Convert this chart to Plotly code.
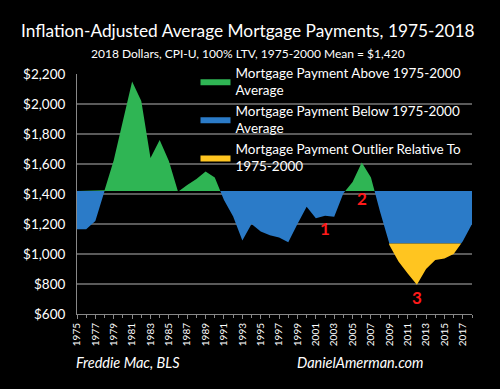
import plotly.graph_objects as go

years = list(range(1975, 2019))
payments = [1165, 1165, 1220, 1425, 1625, 1880, 2150, 2020, 1640, 1760,
            1620, 1415, 1460, 1500, 1550, 1510, 1360, 1250, 1090, 1200,
            1150, 1125, 1110, 1078, 1200, 1315, 1238, 1255, 1248, 1405,
            1480, 1610, 1510, 1280, 1060, 950, 870, 795, 900, 960,
            970, 1000, 1085, 1200]
mean_1975_2000 = 1420
outlier_level = 1070
tick_years = list(range(1975, 2018, 2))
y_ticks = list(range(600, 2201, 200))
series_names = ["Mortgage Payment Above 1975-2000<br>Average",
                "Mortgage Payment Below 1975-2000<br>Average",
                "Mortgage Payment Outlier Relative To<br>1975-2000"]
colors = ["#2fb554", "#2b7bc8", "#ffc520"]
notes = [("1", 2002, 1172), ("2", 2006, 1371), ("3", 2012, 713)]
title_text = "Inflation-Adjusted Average Mortgage Payments, 1975-2018"
subtitle_text = "2018 Dollars, CPI-U, 100% LTV, 1975-2000 Mean = $1,420"


def clipped(xs, ys, lo, hi):
    """Clip a polyline to [lo, hi], inserting the boundary crossings."""
    ox, oy = [], []
    for i in range(len(xs)):
        if i > 0:
            x0, y0, x1, y1 = xs[i - 1], ys[i - 1], xs[i], ys[i]
            for b in (lo, hi):
                if (y0 - b) * (y1 - b) < 0:
                    t = (b - y0) / (y1 - y0)
                    ox.append(x0 + t * (x1 - x0))
                    oy.append(b)
        ox.append(xs[i])
        oy.append(min(max(ys[i], lo), hi))
    pts = sorted(zip(ox, oy), key=lambda p: p[0])
    return [p[0] for p in pts], [p[1] for p in pts]


def band(lo, hi, base):
    cx, cy = clipped(years, payments, lo, hi)
    return cx + cx[::-1], cy + [base] * len(cx)


fig = go.Figure()
bands = [(mean_1975_2000, 1e9, mean_1975_2000),
         (outlier_level, mean_1975_2000, mean_1975_2000),
         (-1e9, outlier_level, outlier_level)]
for name, col, (lo, hi, base) in zip(series_names, colors, bands):
    px, py = band(lo, hi, base)
    fig.add_trace(go.Scatter(x=px, y=py, fill="toself", fillcolor=col,
                             mode="lines", line=dict(width=0, color=col),
                             name=name, hoverinfo="skip"))

for txt, xv, yv in notes:
    fig.add_annotation(x=xv, y=yv, text="<b>" + txt + "</b>", showarrow=False,
                       font=dict(family="Lato", size=17, color="#ff1a1a"),
                       xanchor="center", yanchor="middle")

fig.add_annotation(xref="paper", yref="paper", x=0.432, y=1.183,
                   text=title_text, showarrow=False,
                   xanchor="center", yanchor="middle",
                   font=dict(family="Lato", size=17.3, color="white"))
fig.add_annotation(xref="paper", yref="paper", x=0.432, y=1.0875,
                   text=subtitle_text, showarrow=False,
                   xanchor="center", yanchor="middle",
                   font=dict(family="Lato", size=12, color="white"))
fig.add_annotation(xref="paper", yref="paper", x=-0.008, y=-0.2,
                   text="<i>Freddie Mac, BLS</i>", showarrow=False,
                   xanchor="left", yanchor="middle",
                   font=dict(family="Lato", size=14.5, color="white"))
fig.add_annotation(xref="paper", yref="paper", x=0.552, y=-0.2,
                   text="<i>DanielAmerman.com</i>", showarrow=False,
                   xanchor="left", yanchor="middle",
                   font=dict(family="Lato", size=14.5, color="white"))

fig.update_layout(
    width=500, height=389,
    paper_bgcolor="black", plot_bgcolor="black",
    margin=dict(l=77, r=28, t=74, b=75, autoexpand=False),
    xaxis=dict(range=[1975, 2018], tickmode="array", tickvals=tick_years,
               ticktext=[str(t) for t in tick_years], tickangle=-90,
               ticks="outside", ticklen=4, tickcolor="#888", automargin=False,
               minor=dict(dtick=1, tick0=1975, ticks="outside", ticklen=3, tickcolor="#888"),
               showgrid=False, showline=True, linecolor="#888", linewidth=1,
               tickfont=dict(family="Lato", size=10, color="white"), zeroline=False),
    yaxis=dict(range=[600, 2200], tickvals=y_ticks, automargin=False,
               ticktext=["${:,}".format(v) for v in y_ticks],
               showgrid=True, gridcolor="#5a5a5a", gridwidth=1.5,
               showline=True, linecolor="#888", linewidth=1, zeroline=False,
               ticks="", ticklabelstandoff=8,
               tickfont=dict(family="Lato", size=13.5, color="white")),
    legend=dict(x=0.30, y=1.07, xanchor="left", yanchor="top",
                bgcolor="rgba(0,0,0,0)", font=dict(family="Lato", size=13.5, color="white"),
                itemwidth=30, tracegroupgap=2),
    showlegend=True,
)
fig.write_html("out.html", config={"displayModeBar": False},
               post_script="document.body.style.margin='0px';")
